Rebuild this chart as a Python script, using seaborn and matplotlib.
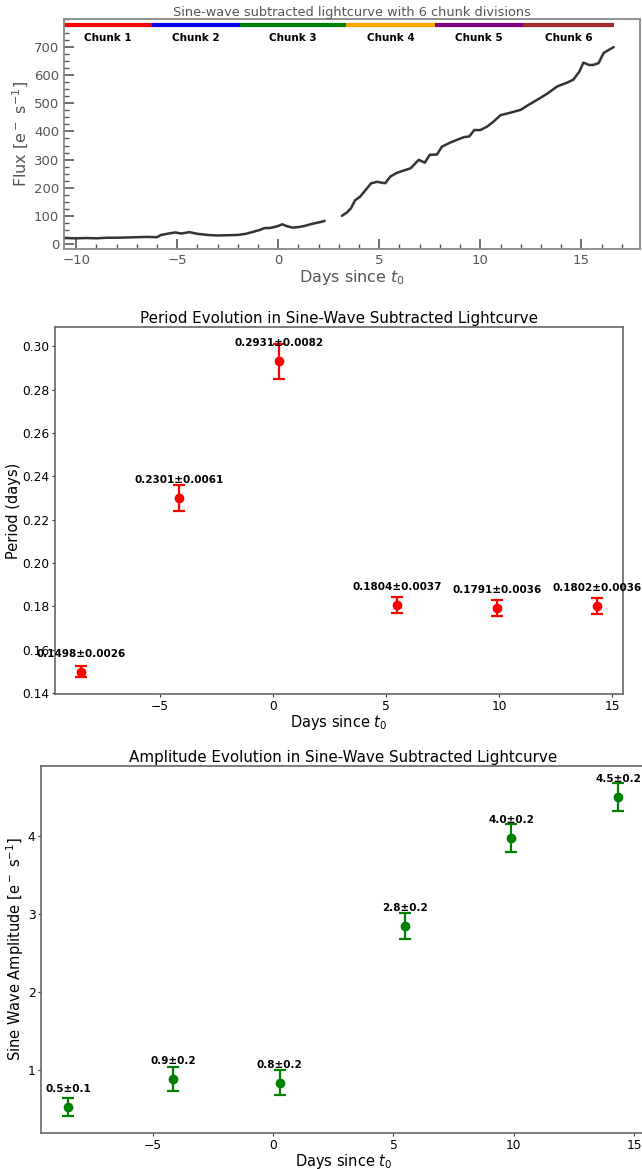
import matplotlib
matplotlib.use("Agg")
import matplotlib.pyplot as plt
from matplotlib.ticker import MultipleLocator
import numpy as np
import seaborn as sns

# lightcurve (two segments, gap near t=2.7)
t_a = [-10.6, -10.0, -9.5, -9.0, -8.5, -8.0, -7.5, -7.0, -6.5, -6.0, -5.8, -5.5,
       -5.1, -4.8, -4.4, -4.0, -3.5, -3.0, -2.5, -2.0, -1.6, -1.2, -0.9, -0.7,
       -0.4, -0.2, 0.0, 0.2, 0.4, 0.7, 1.0, 1.3, 1.6, 1.9, 2.1, 2.3]
flux_a = [21, 20, 21, 20, 22, 22, 23, 24, 25, 24, 32, 36,
          41, 37, 42, 36, 32, 30, 31, 32, 36, 44, 50, 56,
          57, 60, 64, 70, 64, 58, 60, 64, 70, 75, 78, 82]
t_b = [3.15, 3.4, 3.6, 3.8, 4.05, 4.3, 4.6, 4.9, 5.1, 5.3, 5.55, 5.85, 6.2,
       6.55, 6.95, 7.25, 7.5, 7.85, 8.1, 8.5, 8.9, 9.2, 9.45, 9.7, 10.0,
       10.35, 10.65, 11.0, 11.5, 12.0, 12.3, 12.8, 13.3, 13.8, 14.3, 14.6,
       14.9, 15.1, 15.4, 15.6, 15.85, 16.1, 16.35, 16.6]
flux_b = [100, 112, 127, 155, 168, 190, 216, 221, 218, 216, 240, 252, 261,
          269, 299, 289, 317, 318, 346, 360, 372, 380, 382, 405, 405,
          418, 435, 458, 467, 477, 491, 512, 534, 560, 574, 584,
          613, 645, 636, 637, 643, 679, 690, 700]

chunk_edges = [-10.6, -6.26, -1.9, 3.37, 7.74, 12.13, 16.6]
chunk_colors = ["red", "blue", "green", "orange", "purple", "brown"]
chunk_names = ["Chunk 1", "Chunk 2", "Chunk 3", "Chunk 4", "Chunk 5", "Chunk 6"]

chunk_mid = [-8.5, -4.15, 0.28, 5.47, 9.9, 14.33]
period = [0.1498, 0.2301, 0.2931, 0.1804, 0.1791, 0.1802]
period_err = [0.0026, 0.0061, 0.0082, 0.0037, 0.0036, 0.0036]
amp = [0.52, 0.88, 0.83, 2.85, 3.98, 4.51]
amp_err = [0.12, 0.15, 0.16, 0.17, 0.18, 0.18]
amp_txt = ["0.5±0.1", "0.9±0.2", "0.8±0.2", "2.8±0.2", "4.0±0.2", "4.5±0.2"]

sns.set_style("ticks")
plt.rcParams["font.family"] = ["DejaVu Sans"]
plt.rcParams["mathtext.fontset"] = "dejavusans"
plt.rcParams["text.color"] = "black"
plt.rcParams["axes.labelcolor"] = "black"
plt.rcParams["xtick.color"] = "black"
plt.rcParams["ytick.color"] = "black"

fig = plt.figure(figsize=(6.42, 11.69), dpi=100)
W, H = 642, 1169


def box(l, t, r, b):
    return [l / W, 1 - b / H, (r - l) / W, (b - t) / H]


# ---- top: lightcurve ----
gray = "#555555"
ax1 = fig.add_axes(box(64, 19, 640, 249))
sns.lineplot(x=t_a, y=flux_a, ax=ax1, color="#333333", linewidth=1.8)
sns.lineplot(x=t_b, y=flux_b, ax=ax1, color="#333333", linewidth=1.8)
for i in range(6):
    ax1.hlines(779, chunk_edges[i], chunk_edges[i + 1], colors=chunk_colors[i], linewidth=3)
    ax1.text((chunk_edges[i] + chunk_edges[i + 1]) / 2, 733, chunk_names[i],
             ha="center", va="center", fontsize=7.5, fontweight="bold", color="black")
ax1.set_xlim(-10.6, 17.9)
ax1.set_ylim(-18, 800)
ax1.xaxis.set_major_locator(MultipleLocator(5))
ax1.xaxis.set_minor_locator(MultipleLocator(1))
ax1.yaxis.set_major_locator(MultipleLocator(100))
ax1.yaxis.set_minor_locator(MultipleLocator(25))
ax1.set_yticks(range(0, 800, 100))
ax1.tick_params(which="both", direction="in", colors=gray, labelsize=9.5)
ax1.tick_params(which="major", length=7, width=1.2)
ax1.tick_params(which="minor", length=3.5, width=1)
for s in ax1.spines.values():
    s.set_color("#888888")
    s.set_linewidth(1.3)
ax1.set_title("Sine-wave subtracted lightcurve with 6 chunk divisions",
              fontsize=9.3, color=gray, pad=1)
ax1.set_xlabel("Days since $t_0$", fontsize=11.5, color=gray, labelpad=1)
ax1.set_ylabel("Flux [e$^-$ s$^{-1}$]", fontsize=11.5, color=gray, labelpad=2)

# ---- middle: period ----
ax2 = fig.add_axes(box(55, 327, 623, 694))
ax2.errorbar(chunk_mid, period, yerr=period_err, fmt="o", color="red",
             markersize=6, elinewidth=1.6, capsize=4.5, capthick=1.6)
for x, y, e in zip(chunk_mid, period, period_err):
    ax2.text(x, y + 0.0069, f"{y:.4f}±{e:.4f}", ha="center", va="baseline",
             fontsize=7.5, fontweight="bold")
ax2.set_yticks(np.arange(0.14, 0.301, 0.02))
ax2.set_xticks([-5, 0, 5, 10, 15])
ax2.set_title("Period Evolution in Sine-Wave Subtracted Lightcurve", fontsize=10.9, pad=3)
ax2.set_xlabel("Days since $t_0$", fontsize=10.5, labelpad=0)
ax2.set_ylabel("Period (days)", fontsize=10.5, labelpad=1)

# ---- bottom: amplitude ----
ax3 = fig.add_axes(box(41, 766, 645.6, 1133))
ax3.errorbar(chunk_mid, amp, yerr=amp_err, fmt="o", color="green",
             markersize=6, elinewidth=1.6, capsize=4.5, capthick=1.6)
for x, y, s in zip(chunk_mid, amp, amp_txt):
    ax3.text(x, y + 0.19, s, ha="center", va="baseline",
             fontsize=7.5, fontweight="bold")
ax3.set_yticks([1, 2, 3, 4])
ax3.set_xticks([-5, 0, 5, 10, 15])
ax3.set_title("Amplitude Evolution in Sine-Wave Subtracted Lightcurve", fontsize=10.9, pad=3)
ax3.set_xlabel("Days since $t_0$", fontsize=10.5, labelpad=0)
ax3.set_ylabel("Sine Wave Amplitude [e$^-$ s$^{-1}$]", fontsize=10.5, labelpad=1)

for ax in (ax2, ax3):
    ax.tick_params(labelsize=8.8, length=2.5, pad=1.5, color="#333333")
    for s in ax.spines.values():
        s.set_color("#666666")
        s.set_linewidth(1.2)

fig.savefig("out.png", dpi=100)
